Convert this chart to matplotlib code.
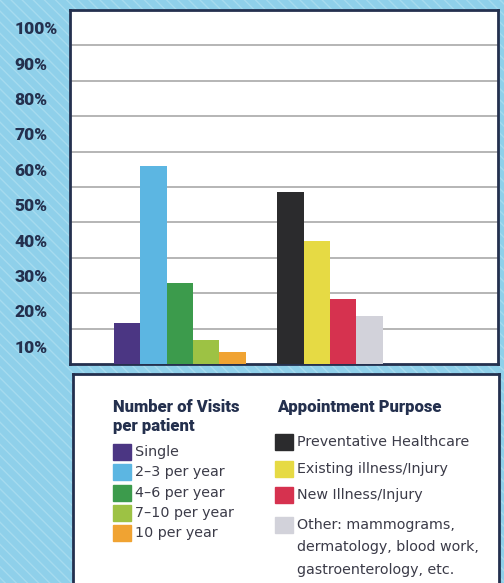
import matplotlib.pyplot as plt
from matplotlib.patches import Rectangle

# data
visit_labels = ['Single', '2\u20133 per year', '4\u20136 per year', '7\u201310 per year', '10 per year']
visit_values = [11.5, 56, 23, 6.8, 3.5]
visit_colors = ['#4b3683', '#5cb6e2', '#3c9b4c', '#9dc244', '#f0a332']

purpose_labels = ['Preventative Healthcare', 'Existing illness/Injury', 'New Illness/Injury',
                  'Other: mammograms,\ndermatology, blood work,\ngastroenterology, etc.']
purpose_values = [48.5, 34.8, 18.4, 13.6]
purpose_colors = ['#2b2b2d', '#e6da44', '#d6324f', '#d2d2da']

pct_ticks = [10, 20, 30, 40, 50, 60, 70, 80, 90, 100]

navy = '#24304e'
W, H = 504, 583

fig = plt.figure(figsize=(W / 100, H / 100), dpi=100)
fig.patch.set_facecolor('#8fd0ea')

# faint scan stripes in the background, kept behind everything
bg = fig.add_axes([0, 0, 1, 1], zorder=-10)
bg.axis('off')
bg.add_patch(Rectangle((0, 0), 1, 1, transform=bg.transAxes, facecolor='none',
                       edgecolor='#a6dbef', hatch='\\\\\\', linewidth=0))

ax = fig.add_axes([70 / W, 1 - 364 / H, 428 / W, 354 / H])
ax.set_facecolor('white')

bw = 1.0
for i, (v, c) in enumerate(zip(visit_values, visit_colors)):
    ax.bar(1.66 + bw * (i + 0.5), v, width=bw, color=c, zorder=3)
for i, (v, c) in enumerate(zip(purpose_values, purpose_colors)):
    ax.bar(7.85 + bw * (i + 0.5), v, width=bw, color=c, zorder=3)

ax.set_xlim(0, 428 / 26.4)
ax.set_ylim(0, 100)
ax.set_xticks([])

# gridlines at every 10 %, labels sit mid-band like the original
for t in pct_ticks[:-1]:
    ax.axhline(t, color='#a2a2a2', lw=1.1, zorder=1)
ax.set_yticks([t - 5 for t in pct_ticks])
ax.set_yticklabels([f'{t}%' for t in pct_ticks], fontsize=12.5, fontweight='black',
                   family='Roboto', color=navy, ha='left')
ax.tick_params(axis='y', length=0, pad=40)
for s in ax.spines.values():
    s.set_color(navy)
    s.set_linewidth(2)

# legend box
lg = fig.add_axes([73 / W, 0, 426 / W, 1 - 374 / H])
lg.set_xlim(73, 499)
lg.set_ylim(583, 374)
lg.set_xticks([])
lg.set_yticks([])
lg.set_facecolor('white')
for s in lg.spines.values():
    s.set_color(navy)
    s.set_linewidth(2)
lg.spines['bottom'].set_visible(False)

head = dict(fontsize=12, fontweight='black', family='Roboto', color=navy, va='center')
txt = dict(fontsize=10.3, color='#3b3b48', va='center')

lg.text(113, 407, 'Number of Visits', **head)
lg.text(113, 426, 'per patient', **head)
lg.text(277, 407, 'Appointment Purpose', **head)

for i, (lab, c) in enumerate(zip(visit_labels, visit_colors)):
    y = 452 + 20.3 * i
    lg.add_patch(Rectangle((113, y - 8), 18, 16, color=c))
    lg.text(135, y, lab, **txt)

purpose_y = [442, 469, 495, 525]
for y, lab, c in zip(purpose_y, purpose_labels, purpose_colors):
    lg.add_patch(Rectangle((275, y - 8), 18, 16, color=c))
    for k, line in enumerate(lab.split('\n')):
        lg.text(297, y + 22.5 * k, line, **txt)

fig.savefig('out.png', dpi=100)
